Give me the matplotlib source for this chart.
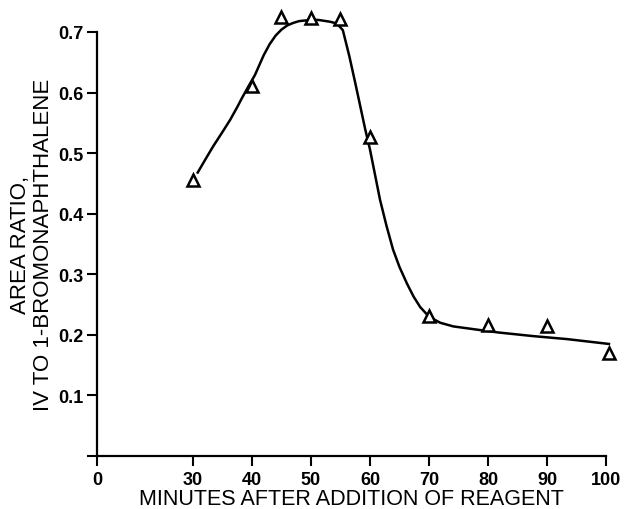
import numpy as np
import matplotlib.pyplot as plt
from matplotlib.ticker import NullLocator

plt.rcParams['font.family'] = ['Liberation Sans', 'DejaVu Sans']

# Messpunkte (Minuten, Flaechenverhaeltnis)
minutes = [30, 40, 45, 50, 55, 60, 70, 80, 90, 100.5]
ratio = [0.455, 0.611, 0.725, 0.723, 0.722, 0.526, 0.231, 0.216, 0.214, 0.170]

# Kurve
curve_x = [30.8, 32.0, 33.4, 35.0, 36.3, 37.5, 38.3, 39.5, 40.5, 41.0, 42.0, 43.0,
           44.0, 45.0, 46.0, 47.0, 48.0, 49.0, 51.2, 53.2, 54.4, 55.4,
           56.5, 57.5, 59.2, 60.0, 61.7, 62.8, 63.9, 65.0, 66.3, 67.4, 68.5, 70.0,
           71.9, 74.1, 78.6, 81.7, 87.6, 93.4, 100.5]
curve_y = [0.468, 0.488, 0.511, 0.535, 0.555, 0.576, 0.591, 0.612, 0.629, 0.640, 0.662, 0.680,
           0.694, 0.704, 0.711, 0.715, 0.718, 0.719, 0.720, 0.717, 0.714, 0.703,
           0.660, 0.616, 0.539, 0.506, 0.423, 0.380, 0.341, 0.312, 0.284, 0.263, 0.246, 0.230,
           0.220, 0.214, 0.208, 0.204, 0.198, 0.193, 0.185]

xticks = [0, 30, 40, 50, 60, 70, 80, 90, 100]
yticks = [0, 0.1, 0.2, 0.3, 0.4, 0.5, 0.6, 0.7]
ytick_labels = ['', '0.1', '0.2', '0.3', '0.4', '0.5', '0.6', '0.7']

# gebrochene x-Achse: 0..30 gestaucht
GAP = 16.27

def fwd(x):
    x = np.asarray(x, dtype=float)
    return np.where(x < 30, x * GAP / 30, x - 30 + GAP)

def inv(u):
    u = np.asarray(u, dtype=float)
    return np.where(u < GAP, u * 30 / GAP, u + 30 - GAP)

fig = plt.figure(figsize=(6.27, 5.10), dpi=100)
ax = fig.add_axes([0.1547, 0.1039, 0.8118, 0.8314])
ax.set_xscale('function', functions=(fwd, inv))

ax.plot(curve_x, curve_y, color='black', lw=1.8, clip_on=False, zorder=2,
        solid_joinstyle='round')
ax.plot(minutes, ratio, linestyle='none', marker='^', markersize=9,
        markerfacecolor='white', markeredgecolor='black', markeredgewidth=1.8,
        clip_on=False, zorder=3)

ax.set_xlim(0, 100)
ax.set_ylim(0, 0.7)
ax.set_xticks(xticks)
ax.set_xticklabels([str(t) for t in xticks], fontsize=13, fontweight='bold')
ax.xaxis.set_minor_locator(NullLocator())
ax.set_yticks(yticks)
ax.set_yticklabels(ytick_labels, fontsize=13, fontweight='bold')

for side in ['top', 'right']:
    ax.spines[side].set_visible(False)
for side in ['left', 'bottom']:
    ax.spines[side].set_linewidth(1.6)
ax.tick_params(direction='out', length=7, width=1.5, pad=3)
ax.tick_params(axis='x', pad=4)

ax.set_xlabel('MINUTES AFTER ADDITION OF REAGENT', fontsize=15.5, labelpad=0)
ax.set_ylabel('AREA RATIO,\nIV TO 1-BROMONAPHTHALENE', fontsize=16, linespacing=1.1)
ax.yaxis.set_label_coords(-0.085, 0.5)

fig.savefig('out.png', dpi=100)
